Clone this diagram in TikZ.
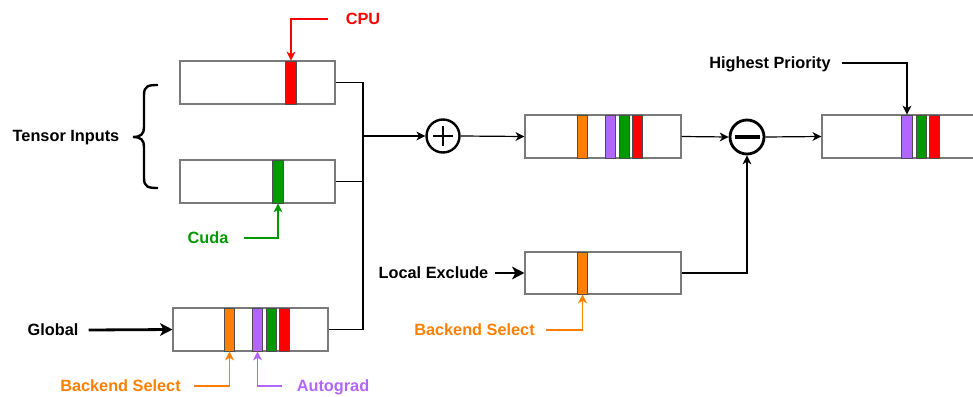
\documentclass[tikz,border=0pt]{standalone}
\usepackage{fontspec}
\setmainfont{Liberation Sans}
\usetikzlibrary{calc}
\definecolor{cRed}{HTML}{FF0000}
\definecolor{cGreen}{HTML}{009900}
\definecolor{cOrange}{HTML}{FF8000}
\definecolor{cPurple}{HTML}{B266FF}
\definecolor{boxgray}{HTML}{7A7A7A}
\definecolor{bardark}{HTML}{4D4D4D}
\tikzset{
  box/.style={draw=boxgray,line width=1.2pt,fill=white,minimum width=155pt,minimum height=43pt,inner sep=0pt},
  bar/.style={draw=bardark,line width=0.9pt,fill=#1,minimum width=10.5pt,minimum height=43pt,inner sep=0pt},
  lbl/.style={font=\fontsize{16.3}{19}\selectfont\bfseries,inner sep=0pt,text height=11.7pt,text depth=0pt},
  conn/.style={line width=1.2pt},
  arr/.style={line width=1.2pt,shorten >=5pt},
  thickarr/.style={line width=2.8pt,shorten >=8pt},
  op/.style={circle,draw=black,line width=2.4pt,inner sep=0pt,fill=white},
  thinhead/.pic={\fill (0,0) -- (-9pt,4.5pt) -- (-6.3pt,0pt) -- (-9pt,-4.5pt) -- cycle;},
  thickhead/.pic={\fill (0,0) -- (-12.5pt,6.5pt) -- (-9pt,0pt) -- (-12.5pt,-6.5pt) -- cycle;}
}
\begin{document}
\begin{tikzpicture}[x=1pt,y=-1pt]
\useasboundingbox (0,0) rectangle (973,396);
\clip (0,0) rectangle (973,396);

% boxes
\node[box] (b1) at (257.5,82.5) {};
\node[box] (b2) at (257.5,181.5) {};
\node[box] (bg) at (250.5,329.5) {};
\node[box,minimum width=156pt] (bm) at (603,136.5) {};
\node[box,minimum width=156pt,minimum height=42pt] (bl) at (603,273) {};
\node[box] (br) at (899.5,136.5) {};

% bars
\node[bar=cRed] (b1r) at (291,82.5) {};
\node[bar=cGreen] (b2g) at (278,181.5) {};
\node[bar=cOrange] (bgo) at (229.5,329.5) {};
\node[bar=cPurple] (bgp) at (257.5,329.5) {};
\node[bar=cGreen] (bgg) at (271.5,329.5) {};
\node[bar=cRed] (bgr) at (284.5,329.5) {};
\node[bar=cOrange] (bmo) at (582.5,136.5) {};
\node[bar=cPurple] (bmp) at (610.5,136.5) {};
\node[bar=cGreen] (bmg) at (624.5,136.5) {};
\node[bar=cRed] (bmr) at (637.5,136.5) {};
\node[bar=cOrange,minimum height=42pt] (blo) at (582.5,273) {};
\node[bar=cPurple] (brp) at (907,136.5) {};
\node[bar=cGreen] (brg) at (921.5,136.5) {};
\node[bar=cRed] (brr) at (934.5,136.5) {};

% operators
\node[op,minimum size=33pt] (plus) at (443,136) {};
\draw[line width=1.6pt] ($(plus.center)+(-10,0)$) -- ($(plus.center)+(10,0)$);
\draw[line width=1.6pt] ($(plus.center)+(0,-10)$) -- ($(plus.center)+(0,10)$);
\node[op,minimum size=34pt,line width=2.8pt] (minus) at (747,137) {};
\draw[line width=4pt] ($(minus.center)+(-12.5,0)$) -- ($(minus.center)+(12.5,0)$);

% labels
\node[lbl] (tensor) at (66,136) {Tensor Inputs};
\node[lbl,text=cRed] (cpu) at (363,19) {CPU};
\node[lbl,text=cGreen] (cuda) at (208,238) {Cuda};
\node[lbl] (global) at (53,330) {Global};
\node[lbl,text=cOrange] (bs1) at (120.5,386) {Backend Select};
\node[lbl,text=cPurple] (autograd) at (333,386) {Autograd};
\node[lbl] (local) at (433.5,273) {Local Exclude};
\node[lbl,text=cOrange] (bs2) at (474.5,330) {Backend Select};
\node[lbl] (hp) at (770,63) {Highest Priority};

% brace
\draw[line width=2.4pt] (158,85) .. controls (148,85) and (144,86) .. (144,95) -- (144,127)
  .. controls (144,134) and (141,137) .. (133,137)
  .. controls (141,137) and (144,140) .. (144,147) -- (144,178)
  .. controls (144,187) and (148,188) .. (158,188);

% junction
\coordinate (jt) at (363,82.5);
\coordinate (jb) at (363,329.5);
\draw[conn] (b1.east) -- (jt) -- (jb) -- (bg.east);
\draw[conn] (b2.east) -- (b2.east -| jt);
\draw[arr] (jt |- plus) -- (plus.west);
\pic at (plus.west) {thinhead};
\draw[arr] (plus.east) -- (bm.west);
\pic at (bm.west) {thinhead};
\draw[arr] (bm.east) -- (minus.west);
\pic at (minus.west) {thinhead};
\draw[arr] (bl.east) -| (minus.south);
\pic[rotate=90] at (minus.south) {thinhead};
\draw[arr] (minus.east) -- (br.west);
\pic at (br.west) {thinhead};

% label connectors
\draw[arr,cRed] ([xshift=-18pt]cpu.west) -| (b1r.north);
\pic[cRed,rotate=-90] at (b1r.north) {thinhead};
\draw[arr,cGreen] ([xshift=15pt]cuda.east) -| (b2g.south);
\pic[cGreen,rotate=90] at (b2g.south) {thinhead};
\draw[thickarr] ([xshift=10pt]global.east) -- (bg.west);
\pic at (bg.west) {thickhead};
\draw[arr,cOrange] ([xshift=13pt]bs1.east) -| (bgo.south);
\pic[cOrange,rotate=90] at (bgo.south) {thinhead};
\draw[arr,cPurple] ([xshift=-15pt]autograd.west) -| (bgp.south);
\pic[cPurple,rotate=90] at (bgp.south) {thinhead};
\draw[thickarr] ([xshift=6pt]local.east) -- (bl.west);
\pic at (bl.west) {thickhead};
\draw[arr,cOrange] ([xshift=11pt]bs2.east) -| (blo.south);
\pic[cOrange,rotate=90] at (blo.south) {thinhead};
\draw[arr] ([xshift=11pt]hp.east) -| (brp.north);
\pic[rotate=-90] at (brp.north) {thinhead};
\end{tikzpicture}
\end{document}
